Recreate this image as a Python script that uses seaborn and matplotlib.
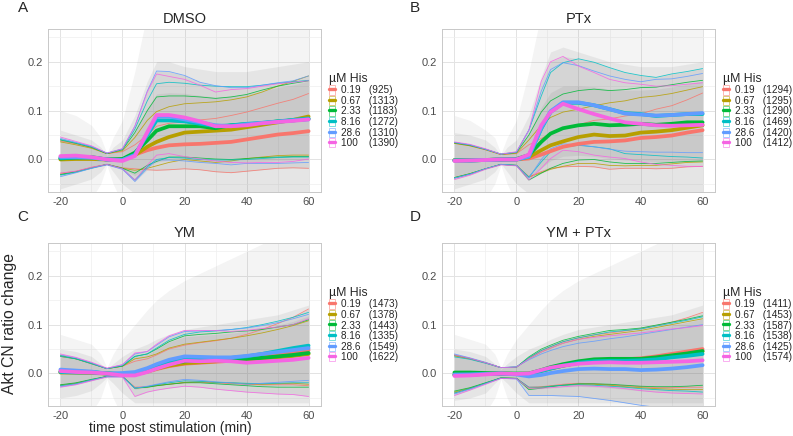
import numpy as np
import pandas as pd
import matplotlib
matplotlib.use("Agg")
import matplotlib.pyplot as plt
from matplotlib.patches import Rectangle
from matplotlib.lines import Line2D
import seaborn as sns

# ---------------- data ----------------
times = [-20, -15, -10, -5, 0, 4, 8, 11, 15, 20, 25, 30, 35, 40, 45, 50, 55, 60]
conc = ["0.19", "0.67", "2.33", "8.16", "28.6", "100"]
colors = ["#F8766D", "#B79F00", "#00BA38", "#00BFC4", "#619CFF", "#F564E3"]
titles = ["DMSO", "PTx", "YM", "YM + PTx"]
letters = ["A", "B", "C", "D"]

counts_A = [925, 1313, 1183, 1272, 1310, 1390]
counts_B = [1294, 1295, 1290, 1469, 1420, 1412]
counts_C = [1473, 1378, 1443, 1335, 1549, 1622]
counts_D = [1411, 1453, 1587, 1538, 1425, 1574]

mean_A = [
    [0.002, 0.003, 0.003, 0.0, -0.001, 0.010, 0.019, 0.024, 0.029, 0.031, 0.032, 0.034, 0.036, 0.041, 0.046, 0.051, 0.054, 0.058],
    [0.0, 0.001, 0.001, 0.0, 0.0, 0.009, 0.026, 0.036, 0.046, 0.055, 0.057, 0.059, 0.061, 0.066, 0.071, 0.076, 0.081, 0.088],
    [0.002, 0.004, 0.005, 0.0, 0.001, 0.014, 0.039, 0.059, 0.068, 0.068, 0.068, 0.064, 0.070, 0.072, 0.074, 0.078, 0.080, 0.083],
    [0.003, 0.004, 0.004, 0.0, -0.001, 0.010, 0.050, 0.080, 0.080, 0.078, 0.073, 0.068, 0.070, 0.073, 0.075, 0.078, 0.081, 0.084],
    [0.005, 0.005, 0.004, 0.0, -0.001, 0.009, 0.053, 0.088, 0.088, 0.082, 0.076, 0.070, 0.068, 0.072, 0.075, 0.077, 0.080, 0.082],
    [0.007, 0.008, 0.005, 0.0, -0.003, 0.007, 0.056, 0.091, 0.091, 0.086, 0.078, 0.068, 0.068, 0.070, 0.074, 0.077, 0.079, 0.082],
]
upper_A = [
    [0.038, 0.032, 0.024, 0.012, 0.016, 0.030, 0.050, 0.068, 0.074, 0.077, 0.081, 0.084, 0.090, 0.097, 0.106, 0.115, 0.123, 0.135],
    [0.036, 0.030, 0.023, 0.012, 0.018, 0.045, 0.080, 0.098, 0.108, 0.114, 0.116, 0.118, 0.122, 0.128, 0.138, 0.150, 0.160, 0.171],
    [0.040, 0.033, 0.025, 0.012, 0.020, 0.055, 0.100, 0.128, 0.130, 0.130, 0.128, 0.125, 0.128, 0.133, 0.142, 0.150, 0.156, 0.161],
    [0.041, 0.034, 0.026, 0.013, 0.021, 0.062, 0.120, 0.155, 0.158, 0.156, 0.152, 0.150, 0.149, 0.149, 0.152, 0.156, 0.159, 0.162],
    [0.043, 0.035, 0.027, 0.013, 0.022, 0.068, 0.140, 0.181, 0.180, 0.172, 0.158, 0.151, 0.147, 0.147, 0.152, 0.157, 0.161, 0.171],
    [0.046, 0.037, 0.028, 0.013, 0.022, 0.068, 0.138, 0.175, 0.170, 0.164, 0.152, 0.138, 0.143, 0.145, 0.150, 0.155, 0.158, 0.161],
]
lower_A = [
    [-0.028, -0.024, -0.016, -0.010, -0.017, -0.019, -0.021, -0.022, -0.021, -0.019, -0.021, -0.025, -0.027, -0.024, -0.021, -0.018, -0.017, -0.018],
    [-0.030, -0.025, -0.017, -0.010, -0.018, -0.022, -0.018, -0.013, -0.006, 0.000, -0.003, -0.006, -0.003, 0.002, 0.005, 0.008, 0.009, 0.009],
    [-0.031, -0.025, -0.017, -0.010, -0.018, -0.028, -0.012, -0.004, 0.005, 0.005, 0.003, 0.001, 0.000, 0.002, 0.004, 0.005, 0.006, 0.006],
    [-0.032, -0.026, -0.018, -0.010, -0.019, -0.042, -0.015, 0.000, 0.004, 0.003, 0.000, -0.001, -0.001, 0.000, 0.002, 0.004, 0.005, 0.005],
    [-0.035, -0.027, -0.018, -0.011, -0.020, -0.045, -0.018, -0.001, -0.001, -0.003, -0.006, -0.008, -0.011, -0.008, -0.008, -0.008, -0.007, -0.006],
    [-0.028, -0.024, -0.016, -0.010, -0.019, -0.042, -0.012, 0.009, 0.012, 0.006, 0.001, -0.003, -0.006, -0.007, -0.006, -0.006, -0.004, 0.001],
]

mean_B = [
    [-0.002, -0.002, -0.001, 0.0, 0.0, 0.002, 0.010, 0.017, 0.026, 0.032, 0.036, 0.037, 0.039, 0.044, 0.046, 0.049, 0.055, 0.060],
    [-0.001, -0.001, -0.001, 0.0, 0.0, 0.005, 0.019, 0.029, 0.037, 0.046, 0.051, 0.048, 0.049, 0.055, 0.057, 0.060, 0.065, 0.070],
    [-0.002, -0.002, -0.001, 0.0, 0.001, 0.009, 0.036, 0.053, 0.064, 0.070, 0.073, 0.070, 0.071, 0.073, 0.071, 0.073, 0.076, 0.076],
    [-0.002, -0.002, -0.001, 0.0, 0.0, 0.006, 0.063, 0.097, 0.116, 0.116, 0.111, 0.103, 0.095, 0.093, 0.089, 0.091, 0.093, 0.093],
    [-0.002, -0.002, -0.001, 0.0, 0.0, 0.006, 0.065, 0.099, 0.117, 0.117, 0.111, 0.103, 0.094, 0.092, 0.090, 0.091, 0.093, 0.095],
    [-0.003, -0.002, -0.001, 0.0, 0.0, 0.010, 0.070, 0.097, 0.114, 0.103, 0.093, 0.084, 0.076, 0.073, 0.070, 0.069, 0.070, 0.071],
]
upper_B = [
    [0.033, 0.028, 0.020, 0.010, 0.012, 0.030, 0.043, 0.053, 0.064, 0.071, 0.080, 0.083, 0.089, 0.093, 0.103, 0.110, 0.122, 0.136],
    [0.033, 0.028, 0.020, 0.010, 0.013, 0.040, 0.070, 0.086, 0.097, 0.103, 0.110, 0.116, 0.120, 0.127, 0.130, 0.135, 0.142, 0.149],
    [0.034, 0.029, 0.021, 0.011, 0.014, 0.050, 0.097, 0.120, 0.134, 0.141, 0.144, 0.141, 0.143, 0.147, 0.148, 0.153, 0.158, 0.162],
    [0.035, 0.030, 0.021, 0.011, 0.015, 0.060, 0.130, 0.178, 0.198, 0.206, 0.199, 0.188, 0.178, 0.172, 0.168, 0.175, 0.180, 0.186],
    [0.035, 0.030, 0.021, 0.011, 0.015, 0.060, 0.140, 0.184, 0.198, 0.192, 0.181, 0.171, 0.164, 0.159, 0.164, 0.165, 0.170, 0.176],
    [0.036, 0.031, 0.022, 0.011, 0.016, 0.060, 0.160, 0.200, 0.211, 0.191, 0.178, 0.164, 0.157, 0.154, 0.150, 0.151, 0.154, 0.157],
]
lower_B = [
    [-0.038, -0.030, -0.019, -0.010, -0.012, -0.035, -0.025, -0.018, -0.015, -0.014, -0.015, -0.020, -0.018, -0.018, -0.019, -0.018, -0.015, -0.014],
    [-0.037, -0.029, -0.019, -0.010, -0.012, -0.036, -0.027, -0.020, -0.014, -0.008, -0.008, -0.012, -0.013, -0.012, -0.012, -0.009, -0.006, -0.005],
    [-0.037, -0.029, -0.019, -0.010, -0.012, -0.042, -0.028, -0.018, -0.008, -0.001, 0.000, -0.005, -0.008, -0.008, -0.008, -0.006, -0.004, -0.003],
    [-0.038, -0.030, -0.019, -0.010, -0.012, -0.036, -0.005, 0.016, 0.025, 0.029, 0.026, 0.022, 0.012, 0.010, 0.008, 0.006, 0.005, 0.003],
    [-0.038, -0.030, -0.019, -0.010, -0.012, -0.038, 0.000, 0.022, 0.032, 0.030, 0.026, 0.021, 0.017, 0.016, 0.015, 0.015, 0.014, 0.014],
    [-0.041, -0.032, -0.020, -0.011, -0.013, -0.042, -0.018, 0.002, 0.019, 0.016, 0.009, 0.005, 0.002, -0.005, -0.010, -0.012, -0.014, -0.014],
]

mean_C = [
    [0.003, 0.002, 0.002, 0.0, -0.002, -0.002, 0.004, 0.009, 0.015, 0.020, 0.022, 0.024, 0.026, 0.028, 0.033, 0.038, 0.043, 0.048],
    [0.002, 0.002, 0.001, 0.0, -0.002, -0.002, 0.004, 0.010, 0.016, 0.021, 0.023, 0.025, 0.027, 0.029, 0.031, 0.033, 0.036, 0.040],
    [0.004, 0.004, 0.003, 0.0, -0.001, 0.000, 0.006, 0.013, 0.020, 0.025, 0.027, 0.028, 0.029, 0.030, 0.032, 0.035, 0.038, 0.042],
    [0.003, 0.002, 0.002, 0.0, -0.001, 0.001, 0.008, 0.015, 0.024, 0.030, 0.031, 0.031, 0.032, 0.035, 0.040, 0.046, 0.052, 0.057],
    [0.008, 0.006, 0.004, 0.0, 0.001, 0.003, 0.011, 0.019, 0.028, 0.035, 0.034, 0.033, 0.033, 0.036, 0.040, 0.044, 0.048, 0.052],
    [0.005, 0.003, 0.002, 0.0, -0.004, -0.004, 0.003, 0.010, 0.018, 0.026, 0.025, 0.026, 0.025, 0.022, 0.024, 0.026, 0.028, 0.032],
]
upper_C = [
    [0.035, 0.030, 0.020, 0.010, 0.015, 0.025, 0.030, 0.038, 0.050, 0.058, 0.063, 0.067, 0.072, 0.080, 0.090, 0.102, 0.115, 0.132],
    [0.035, 0.030, 0.020, 0.010, 0.015, 0.030, 0.034, 0.040, 0.052, 0.060, 0.064, 0.068, 0.072, 0.077, 0.083, 0.090, 0.098, 0.108],
    [0.037, 0.030, 0.021, 0.010, 0.015, 0.035, 0.040, 0.050, 0.065, 0.077, 0.080, 0.082, 0.085, 0.087, 0.090, 0.095, 0.100, 0.110],
    [0.035, 0.030, 0.020, 0.010, 0.016, 0.035, 0.040, 0.052, 0.068, 0.080, 0.085, 0.087, 0.090, 0.094, 0.100, 0.107, 0.115, 0.125],
    [0.038, 0.032, 0.022, 0.010, 0.018, 0.040, 0.045, 0.058, 0.075, 0.086, 0.087, 0.088, 0.090, 0.093, 0.098, 0.104, 0.112, 0.121],
    [0.040, 0.033, 0.023, 0.011, 0.018, 0.042, 0.045, 0.060, 0.077, 0.088, 0.088, 0.088, 0.086, 0.088, 0.092, 0.095, 0.100, 0.112],
]
lower_C = [
    [-0.024, -0.020, -0.013, -0.006, -0.006, -0.028, -0.027, -0.024, -0.022, -0.019, -0.018, -0.019, -0.021, -0.022, -0.023, -0.023, -0.023, -0.025],
    [-0.024, -0.020, -0.013, -0.006, -0.006, -0.030, -0.028, -0.025, -0.022, -0.018, -0.017, -0.018, -0.019, -0.021, -0.022, -0.021, -0.020, -0.022],
    [-0.023, -0.019, -0.012, -0.006, -0.006, -0.030, -0.028, -0.025, -0.022, -0.019, -0.019, -0.021, -0.023, -0.025, -0.027, -0.028, -0.028, -0.028],
    [-0.025, -0.021, -0.013, -0.006, -0.006, -0.030, -0.027, -0.023, -0.019, -0.015, -0.016, -0.018, -0.019, -0.020, -0.021, -0.020, -0.019, -0.019],
    [-0.027, -0.022, -0.014, -0.007, -0.007, -0.030, -0.026, -0.022, -0.017, -0.012, -0.014, -0.017, -0.019, -0.022, -0.020, -0.018, -0.016, -0.014],
    [-0.028, -0.023, -0.015, -0.007, -0.007, -0.047, -0.038, -0.034, -0.030, -0.026, -0.028, -0.032, -0.035, -0.038, -0.040, -0.042, -0.043, -0.047],
]

mean_D = [
    [-0.003, -0.002, -0.001, 0.0, -0.001, 0.000, 0.006, 0.011, 0.016, 0.022, 0.026, 0.028, 0.029, 0.031, 0.035, 0.040, 0.045, 0.050],
    [-0.002, -0.002, -0.001, 0.0, -0.001, -0.001, 0.005, 0.010, 0.016, 0.022, 0.025, 0.027, 0.028, 0.029, 0.032, 0.036, 0.040, 0.045],
    [0.002, 0.002, 0.001, 0.0, 0.0, 0.000, 0.007, 0.013, 0.019, 0.025, 0.029, 0.030, 0.030, 0.030, 0.033, 0.037, 0.041, 0.046],
    [-0.003, -0.002, -0.001, 0.0, -0.001, -0.001, 0.005, 0.010, 0.016, 0.022, 0.025, 0.026, 0.026, 0.027, 0.029, 0.033, 0.036, 0.040],
    [-0.002, -0.002, -0.001, 0.0, -0.002, -0.006, -0.003, 0.001, 0.005, 0.009, 0.010, 0.009, 0.009, 0.007, 0.008, 0.010, 0.013, 0.017],
    [-0.005, -0.004, -0.002, 0.0, -0.001, 0.000, 0.007, 0.012, 0.016, 0.020, 0.022, 0.023, 0.022, 0.022, 0.023, 0.024, 0.025, 0.027],
]
upper_D = [
    [0.037, 0.030, 0.022, 0.012, 0.013, 0.032, 0.047, 0.055, 0.065, 0.073, 0.079, 0.083, 0.087, 0.092, 0.098, 0.105, 0.114, 0.125],
    [0.036, 0.030, 0.022, 0.012, 0.013, 0.030, 0.044, 0.052, 0.062, 0.070, 0.076, 0.080, 0.084, 0.088, 0.094, 0.100, 0.106, 0.112],
    [0.038, 0.031, 0.022, 0.012, 0.013, 0.034, 0.050, 0.058, 0.068, 0.076, 0.082, 0.088, 0.090, 0.093, 0.099, 0.105, 0.111, 0.118],
    [0.034, 0.029, 0.021, 0.012, 0.013, 0.032, 0.047, 0.055, 0.065, 0.073, 0.079, 0.085, 0.088, 0.091, 0.097, 0.103, 0.109, 0.116],
    [0.040, 0.032, 0.023, 0.012, 0.014, 0.028, 0.040, 0.047, 0.055, 0.062, 0.066, 0.071, 0.075, 0.080, 0.085, 0.090, 0.095, 0.100],
    [0.038, 0.031, 0.022, 0.012, 0.013, 0.030, 0.044, 0.052, 0.062, 0.070, 0.074, 0.077, 0.080, 0.083, 0.087, 0.091, 0.094, 0.098],
]
lower_D = [
    [-0.040, -0.031, -0.020, -0.009, -0.010, -0.028, -0.027, -0.025, -0.022, -0.020, -0.021, -0.023, -0.025, -0.027, -0.029, -0.029, -0.028, -0.028],
    [-0.038, -0.030, -0.020, -0.009, -0.010, -0.030, -0.028, -0.026, -0.024, -0.022, -0.022, -0.024, -0.027, -0.029, -0.031, -0.032, -0.033, -0.033],
    [-0.036, -0.029, -0.019, -0.009, -0.010, -0.033, -0.030, -0.027, -0.024, -0.021, -0.021, -0.022, -0.024, -0.026, -0.027, -0.027, -0.026, -0.024],
    [-0.040, -0.031, -0.020, -0.009, -0.010, -0.028, -0.028, -0.026, -0.024, -0.023, -0.024, -0.026, -0.028, -0.031, -0.033, -0.035, -0.036, -0.038],
    [-0.042, -0.032, -0.021, -0.010, -0.011, -0.045, -0.045, -0.045, -0.046, -0.047, -0.051, -0.055, -0.060, -0.065, -0.069, -0.072, -0.075, -0.078],
    [-0.045, -0.034, -0.022, -0.010, -0.011, -0.030, -0.030, -0.029, -0.027, -0.025, -0.026, -0.028, -0.031, -0.035, -0.038, -0.040, -0.041, -0.042],
]

# single-cell trace cloud envelopes (background of grey traces)
cloud_times = [-20, -15, -10, -7, -5, -3, 0, 4, 8, 11, 15, 20, 30, 40, 50, 60]
cloud_outer_hi_A = [0.10, 0.09, 0.07, 0.045, 0.012, 0.045, 0.08, 0.18, 0.30, 0.30, 0.30, 0.30, 0.30, 0.30, 0.30, 0.30]
cloud_outer_lo_A = [-0.10, -0.09, -0.08, -0.05, -0.012, -0.05, -0.09, -0.10, -0.10, -0.10, -0.10, -0.10, -0.10, -0.10, -0.10, -0.10]
cloud_mid_hi_A = [0.06, 0.05, 0.04, 0.025, 0.008, 0.025, 0.04, 0.09, 0.16, 0.20, 0.20, 0.19, 0.18, 0.18, 0.19, 0.20]
cloud_mid_lo_A = [-0.06, -0.05, -0.04, -0.025, -0.008, -0.025, -0.05, -0.07, -0.07, -0.07, -0.07, -0.07, -0.07, -0.07, -0.07, -0.07]
cloud_outer_hi_B = [0.09, 0.08, 0.06, 0.045, 0.012, 0.045, 0.08, 0.18, 0.30, 0.30, 0.30, 0.30, 0.30, 0.30, 0.30, 0.30]
cloud_outer_lo_B = [-0.10, -0.09, -0.08, -0.05, -0.012, -0.05, -0.09, -0.10, -0.10, -0.10, -0.10, -0.10, -0.10, -0.10, -0.10, -0.10]
cloud_mid_hi_B = [0.055, 0.05, 0.04, 0.025, 0.008, 0.025, 0.04, 0.09, 0.17, 0.22, 0.23, 0.22, 0.20, 0.19, 0.19, 0.20]
cloud_mid_lo_B = [-0.06, -0.05, -0.04, -0.025, -0.008, -0.025, -0.05, -0.07, -0.07, -0.07, -0.07, -0.07, -0.07, -0.07, -0.07, -0.07]
cloud_outer_hi_C = [0.08, 0.07, 0.06, 0.04, 0.012, 0.04, 0.07, 0.10, 0.13, 0.15, 0.17, 0.19, 0.22, 0.25, 0.28, 0.30]
cloud_outer_lo_C = [-0.10, -0.09, -0.08, -0.05, -0.012, -0.05, -0.09, -0.10, -0.10, -0.10, -0.10, -0.10, -0.10, -0.10, -0.10, -0.10]
cloud_mid_hi_C = [0.05, 0.045, 0.035, 0.02, 0.008, 0.02, 0.035, 0.05, 0.06, 0.07, 0.08, 0.09, 0.10, 0.11, 0.12, 0.14]
cloud_mid_lo_C = [-0.05, -0.045, -0.035, -0.02, -0.008, -0.02, -0.04, -0.06, -0.06, -0.06, -0.06, -0.06, -0.06, -0.06, -0.06, -0.06]
cloud_outer_hi_D = [0.08, 0.07, 0.06, 0.04, 0.012, 0.04, 0.07, 0.10, 0.13, 0.15, 0.17, 0.19, 0.22, 0.25, 0.28, 0.30]
cloud_outer_lo_D = [-0.10, -0.09, -0.08, -0.05, -0.012, -0.05, -0.09, -0.10, -0.10, -0.10, -0.10, -0.10, -0.10, -0.10, -0.10, -0.10]
cloud_mid_hi_D = [0.05, 0.045, 0.035, 0.02, 0.008, 0.02, 0.035, 0.05, 0.06, 0.07, 0.08, 0.09, 0.10, 0.11, 0.12, 0.14]
cloud_mid_lo_D = [-0.055, -0.05, -0.04, -0.02, -0.008, -0.02, -0.04, -0.06, -0.06, -0.06, -0.06, -0.06, -0.06, -0.06, -0.06, -0.06]

# ---------------- style ----------------
sns.set_style("white")
plt.rcParams["font.family"] = ["Liberation Sans", "DejaVu Sans"]
plt.rcParams["axes.unicode_minus"] = False

panels = [
    (mean_A, upper_A, lower_A, counts_A, cloud_outer_hi_A, cloud_outer_lo_A, cloud_mid_hi_A, cloud_mid_lo_A),
    (mean_B, upper_B, lower_B, counts_B, cloud_outer_hi_B, cloud_outer_lo_B, cloud_mid_hi_B, cloud_mid_lo_B),
    (mean_C, upper_C, lower_C, counts_C, cloud_outer_hi_C, cloud_outer_lo_C, cloud_mid_hi_C, cloud_mid_lo_C),
    (mean_D, upper_D, lower_D, counts_D, cloud_outer_hi_D, cloud_outer_lo_D, cloud_mid_hi_D, cloud_mid_lo_D),
]

W, H = 793, 436
fig = plt.figure(figsize=(W / 100, H / 100), dpi=100)
boxes = [(48, 29), (442, 29), (48, 243), (442, 243)]
pw, ph = 273, 163

palette = dict(zip(conc, colors))
grey = "#666666"

for i, (mean, upper, lower, counts, ohi, olo, mhi, mlo) in enumerate(panels):
    x0, y0 = boxes[i]
    ax = fig.add_axes([x0 / W, 1 - (y0 + ph) / H, pw / W, ph / H])
    ax.set_xlim(-24, 64)
    ax.set_ylim(-0.0665, 0.267)

    # grid like ggplot theme_light
    for gx in [-20, 0, 20, 40, 60]:
        ax.axvline(gx, color="#E3E3E3", lw=0.7, zorder=0)
    for gx in [-10, 10, 30, 50]:
        ax.axvline(gx, color="#EFEFEF", lw=0.5, zorder=0)
    for gy in [0.0, 0.1, 0.2]:
        ax.axhline(gy, color="#E3E3E3", lw=0.7, zorder=0)
    for gy in [-0.05, 0.05, 0.15, 0.25]:
        ax.axhline(gy, color="#EFEFEF", lw=0.5, zorder=0)

    # background cloud of single-cell traces
    ax.fill_between(cloud_times, olo, ohi, color=grey, alpha=0.07, lw=0, zorder=1)
    ax.fill_between(cloud_times, mlo, mhi, color=grey, alpha=0.10, lw=0, zorder=1)
    lo_arr = np.array(lower)
    hi_arr = np.array(upper)
    ax.fill_between(times, lo_arr.min(axis=0), hi_arr.max(axis=0), color=grey, alpha=0.12, lw=0, zorder=1)
    ax.fill_between(times, lo_arr.mean(axis=0), hi_arr.mean(axis=0), color=grey, alpha=0.10, lw=0, zorder=1)

    rows = []
    for c, m, u, l in zip(conc, mean, upper, lower):
        for t, mv, uv, lv in zip(times, m, u, l):
            rows.append({"time": t, "conc": c, "mean": mv, "upper": uv, "lower": lv})
    df = pd.DataFrame(rows)

    for col in ["upper", "lower"]:
        sns.lineplot(data=df, x="time", y=col, hue="conc", hue_order=conc, palette=palette,
                     lw=0.6, alpha=0.85, legend=False, ax=ax, estimator=None, sort=False, zorder=3)
    sns.lineplot(data=df, x="time", y="mean", hue="conc", hue_order=conc, palette=palette,
                 lw=2.7, legend=False, ax=ax, estimator=None, sort=False, zorder=4)

    ax.set_xlabel("")
    ax.set_ylabel("")
    ax.set_xticks([-20, 0, 20, 40, 60])
    ax.set_yticks([0.0, 0.1, 0.2])
    ax.set_yticklabels(["0.0", "0.1", "0.2"])
    ax.tick_params(axis="both", labelsize=8, labelcolor="#4D4D4D", color="#C8C8C8",
                   length=2, width=0.5, pad=1.5)
    for sp in ax.spines.values():
        sp.set_color("#C8C8C8")
        sp.set_linewidth(0.7)
    ax.set_title(titles[i], fontsize=10.5, pad=4)

    # legend
    handles = []
    labels = []
    for c, col, n in zip(conc, colors, counts):
        patch = Rectangle((0, 0), 1, 1, facecolor="none", edgecolor=col, alpha=0.6, lw=0.6)
        line = Line2D([0], [0], color=col, lw=2.4)
        handles.append((patch, line))
        pad = "   " if len(c) == 4 else "    "
        labels.append(f"{c}{pad}({n})")
    ax.legend(handles, labels, loc="center left", bbox_to_anchor=(1.03, 0.5), frameon=False,
              title="\u00b5M His", alignment="left", fontsize=7.2, title_fontsize=8.8,
              handlelength=0.6, handleheight=1.05, handletextpad=0.55, labelspacing=0.05,
              borderaxespad=0, borderpad=0)

    # panel letter
    lx = 23 if i % 2 == 0 else 415
    ly = 8 if i < 2 else 217
    fig.text(lx / W, 1 - ly / H, letters[i], fontsize=11, ha="center", va="center")

fig.text(10 / W, 1 - 323 / H, "Akt CN ratio change", rotation=90, fontsize=11.3,
         ha="center", va="center")
fig.text(170 / W, 1 - 428 / H, "time post stimulation (min)", fontsize=10,
         ha="center", va="center")

fig.savefig("out.png", dpi=100)
